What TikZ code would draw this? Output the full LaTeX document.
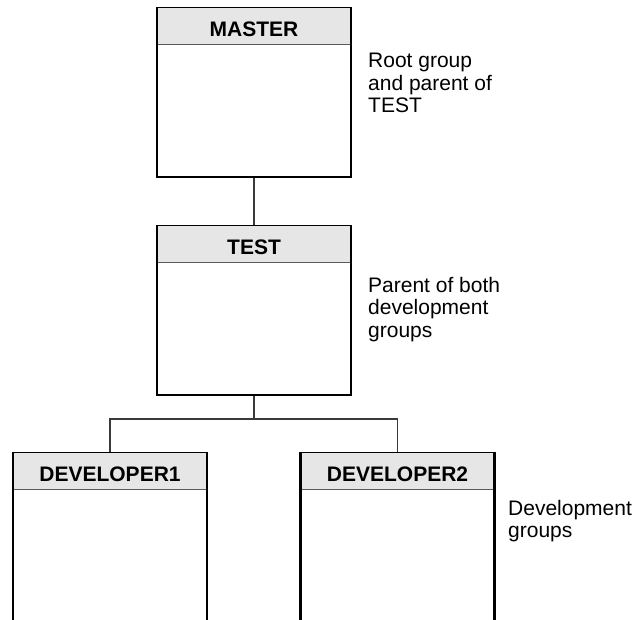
\documentclass[tikz,border=0pt]{standalone}
\usepackage{fontspec}
\setmainfont{Liberation Sans}
\usepackage{xcolor}
\usepackage{tikz}

\definecolor{headgray}{HTML}{E6E6E6}
\definecolor{wiregray}{HTML}{3A3A3A}
\definecolor{rulegray}{HTML}{5A5A5A}

\tikzset{
    group/.style={draw, line width=2.5pt, minimum width=194pt, inner sep=0pt},
    head/.style={fill=headgray, anchor=north, minimum width=191.5pt, minimum height=35.75pt,
        inner sep=0pt, text height=21pt, text depth=0pt, font=\fontsize{21}{22.5}\selectfont\bfseries},
    divider/.style={draw=rulegray, line width=1.2pt},
    wire/.style={draw=wiregray, line width=1.2pt},
    note/.style={anchor=north west, align=left, inner sep=0pt, font=\fontsize{21}{22.5}\selectfont}
}

\begin{document}
\begin{tikzpicture}[x=1pt,y=-1pt]
            \clip (0,0) rectangle (639,619);
            \useasboundingbox (0,0) rectangle (639,619);

            \node[group, minimum height=169pt] at (254,92.5) (master) {};
            \node[head] at ([yshift=-1.25pt]master.north) (masterhead) {MASTER};
            \draw[divider] (masterhead.south west) -- (masterhead.south east);

            \node[group, minimum height=169pt] at (254,310.5) (test) {};
            \node[head] at ([yshift=-1.25pt]test.north) (testhead) {TEST};
            \draw[divider] (testhead.south west) -- (testhead.south east);

            \node[group, minimum height=187pt] at (110,546.5) (dev1) {};
            \node[head] at ([yshift=-1.25pt]dev1.north) (dev1head) {DEVELOPER1};
            \draw[divider] (dev1head.south west) -- (dev1head.south east);

            \node[group, minimum height=187pt] at (397.5,546.5) (dev2) {};
            \node[head] at ([yshift=-1.25pt]dev2.north) (dev2head) {DEVELOPER2};
            \draw[divider] (dev2head.south west) -- (dev2head.south east);

            \coordinate (fork) at (254,419);
            \draw[wire] (master.south) -- (test.north);
            \draw[wire] (test.south) -- (fork);
            \draw[wire] (fork) -| (dev1.north);
            \draw[wire] (fork) -| (dev2.north);

            \node[note] at (368,53) (masternote) {Root group\\and parent of\\TEST};
            \node[note] at (368,277) (testnote) {Parent of both\\development\\groups};
            \node[note] at (508,500) (devnote) {Development\\groups};
        \end{tikzpicture}
\end{document}
